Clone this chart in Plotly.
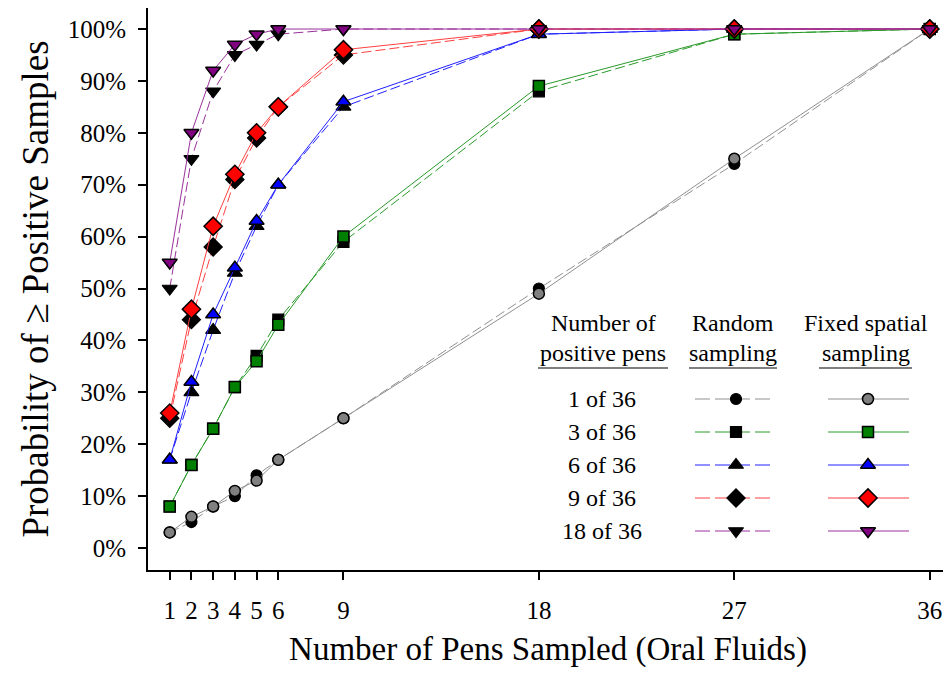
import plotly.graph_objects as go

pens_sampled = [1, 2, 3, 4, 5, 6, 9, 18, 27, 36]
x_tick_labels = ["1", "2", "3", "4", "5", "6", "9", "18", "27", "36"]
y_ticks = [0, 10, 20, 30, 40, 50, 60, 70, 80, 90, 100]
y_tick_labels = ["0%", "10%", "20%", "30%", "40%", "50%", "60%", "70%", "80%", "90%", "100%"]

group_names = ["1 of 36", "3 of 36", "6 of 36", "9 of 36", "18 of 36"]

random_1 = [3, 5, 8, 10, 14, 17, 25, 50, 74, 100]
random_3 = [8, 16, 23, 31, 37, 44, 59, 88, 99, 100]
random_6 = [17, 30, 42, 53, 62, 70, 85, 99, 100, 100]
random_9 = [25, 44, 58, 71, 79, 85, 95, 100, 100, 100]
random_18 = [50, 75, 88, 95, 97, 99, 100, 100, 100, 100]

fixed_1 = [3, 6, 8, 11, 13, 17, 25, 49, 75, 100]
fixed_3 = [8, 16, 23, 31, 36, 43, 60, 89, 99, 100]
fixed_6 = [17, 32, 45, 54, 63, 70, 86, 99, 100, 100]
fixed_9 = [26, 46, 62, 72, 80, 85, 96, 100, 100, 100]
fixed_18 = [55, 80, 92, 97, 99, 100, 100, 100, 100, 100]

random_series = [random_1, random_3, random_6, random_9, random_18]
fixed_series = [fixed_1, fixed_3, fixed_6, fixed_9, fixed_18]

line_colors = ["#909090", "#2a9a2a", "#2020ff", "#ff4040", "#9a309a"]
fixed_fill = ["#808080", "#008000", "#0000ff", "#ff0000", "#800080"]
symbols = ["circle", "square", "triangle-up", "diamond", "triangle-down"]
sizes = [11, 11, 13, 14, 13]

FONT = "Liberation Serif, Times New Roman, serif"
DASH = "10px,4px"

fig = go.Figure()

for i in range(5):
    fig.add_trace(go.Scatter(
        x=pens_sampled, y=random_series[i], mode="lines+markers",
        line=dict(color=line_colors[i], width=1, dash=DASH),
        marker=dict(symbol=symbols[i], size=sizes[i], color="black",
                    line=dict(color="black", width=1.2)),
        showlegend=False, cliponaxis=False))
for i in range(5):
    fig.add_trace(go.Scatter(
        x=pens_sampled, y=fixed_series[i], mode="lines+markers",
        line=dict(color=line_colors[i], width=1),
        marker=dict(symbol=symbols[i], size=sizes[i], color=fixed_fill[i],
                    line=dict(color="black", width=1.5)),
        showlegend=False, cliponaxis=False))

# ---- custom legend drawn in page-pixel space on an overlay axis ----
row_y = [399, 432, 465, 498, 531]
rand_x0, rand_x1, rand_mx = 695, 772, 736
fix_x0, fix_x1, fix_mx = 828, 909, 868
for i in range(5):
    y = row_y[i]
    fig.add_trace(go.Scatter(
        x=[rand_x0, rand_x1], y=[y, y], mode="lines", xaxis="x2", yaxis="y2",
        line=dict(color=line_colors[i], width=1, dash="15px,5px"),
        showlegend=False, hoverinfo="skip"))
    fig.add_trace(go.Scatter(
        x=[rand_mx], y=[y], mode="markers", xaxis="x2", yaxis="y2",
        marker=dict(symbol=symbols[i], size=sizes[i], color="black",
                    line=dict(color="black", width=1.2)),
        showlegend=False, hoverinfo="skip"))
    fig.add_trace(go.Scatter(
        x=[fix_x0, fix_x1], y=[y, y], mode="lines", xaxis="x2", yaxis="y2",
        line=dict(color=line_colors[i], width=1),
        showlegend=False, hoverinfo="skip"))
    fig.add_trace(go.Scatter(
        x=[fix_mx], y=[y], mode="markers", xaxis="x2", yaxis="y2",
        marker=dict(symbol=symbols[i], size=sizes[i], color=fixed_fill[i],
                    line=dict(color="black", width=1.5)),
        showlegend=False, hoverinfo="skip"))

LEG_SIZE = 24
annotations = []
for i in range(5):
    annotations.append(dict(x=602, y=row_y[i], xref="x2", yref="y2", text=group_names[i],
                            showarrow=False, font=dict(family=FONT, size=LEG_SIZE, color="black"),
                            xanchor="center", yanchor="middle"))
headers = [(603, "Number of", "positive pens"), (733, "Random", "sampling"),
           (866, "Fixed spatial", "sampling")]
for hx, l1, l2 in headers:
    annotations.append(dict(x=hx, y=323, xref="x2", yref="y2", text=l1, showarrow=False,
                            font=dict(family=FONT, size=LEG_SIZE, color="black"),
                            xanchor="center", yanchor="middle"))
    annotations.append(dict(x=hx, y=353, xref="x2", yref="y2", text=l2, showarrow=False,
                            font=dict(family=FONT, size=LEG_SIZE, color="black"),
                            xanchor="center", yanchor="middle"))

shapes = []
for ux0, ux1 in [(538, 668), (689, 777), (819, 912)]:
    shapes.append(dict(type="line", xref="x2", yref="y2", x0=ux0, x1=ux1, y0=368, y1=368,
                       line=dict(color="black", width=1.2)))

fig.update_layout(
    width=943, height=669,
    margin=dict(l=140, r=3, t=0, b=107, autoexpand=False),
    paper_bgcolor="white", plot_bgcolor="white",
    font=dict(family=FONT, color="black"),
    xaxis=dict(range=[0, 36.84], tickmode="array", tickvals=pens_sampled,
               ticktext=x_tick_labels, ticks="outside", ticklen=8, tickwidth=1.5,
               tickcolor="black", showline=True, linecolor="black", linewidth=2,
               mirror=True, showgrid=False, zeroline=False, automargin=False,
               ticklabelstandoff=9,
               tickfont=dict(family=FONT, size=25, color="black"),
               title=dict(text="Number of Pens Sampled (Oral Fluids)",
                          font=dict(family=FONT, size=33, color="black"), standoff=14)),
    yaxis=dict(range=[-4.24, 104.05], tickmode="array", tickvals=y_ticks,
               ticktext=y_tick_labels,
               ticks="outside", ticklen=8, tickwidth=1.5, tickcolor="black",
               showline=True, linecolor="black", linewidth=2, mirror=True,
               showgrid=False, zeroline=False, automargin=False,
               ticklabelstandoff=7,
               tickfont=dict(family=FONT, size=25, color="black"),
               title=dict(text="Probability of ≥ Positive Samples",
                          font=dict(family=FONT, size=37, color="black"), standoff=8)),
    xaxis2=dict(range=[148, 948], overlaying="x", visible=False, fixedrange=True),
    yaxis2=dict(range=[570, 8], overlaying="y", visible=False, fixedrange=True),
    annotations=annotations, shapes=shapes,
)

fig.write_html("out.html")
